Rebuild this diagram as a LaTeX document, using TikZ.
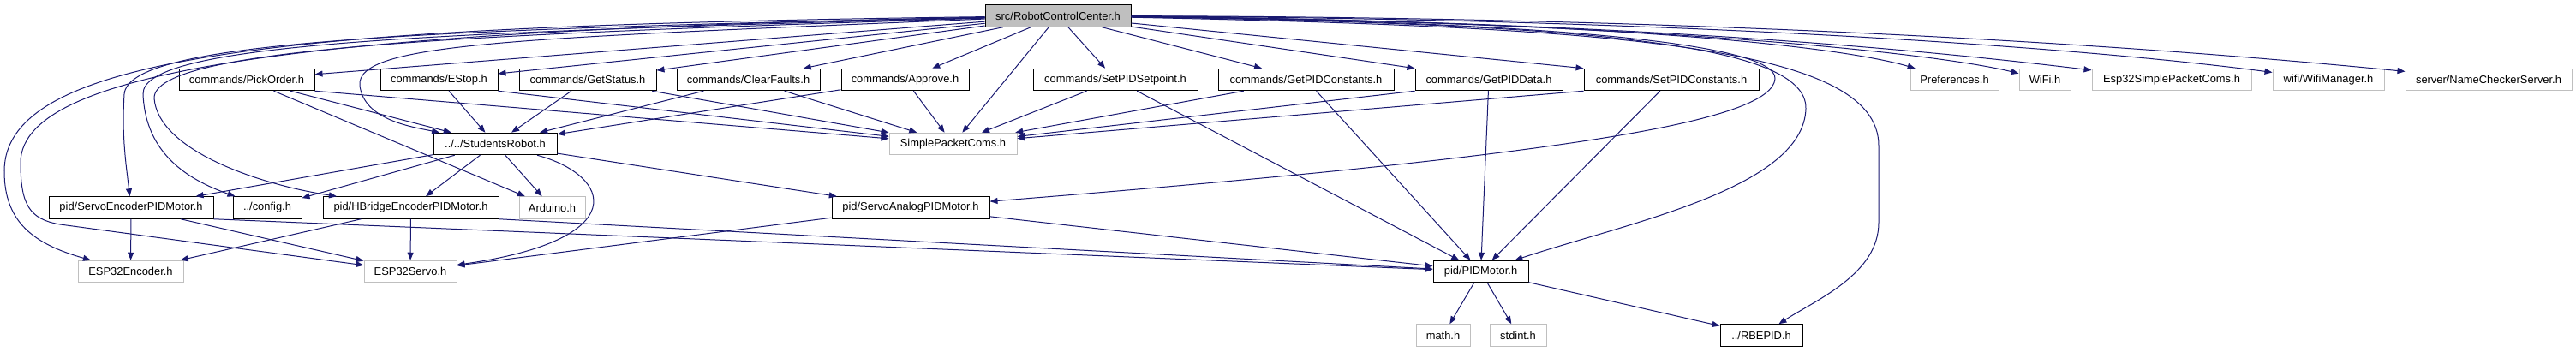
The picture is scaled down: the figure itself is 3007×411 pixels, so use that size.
\documentclass[tikz,border=0pt]{standalone}
\usepackage{fontspec}
\setmainfont{Liberation Sans}
\usetikzlibrary{arrows.meta}

\begin{document}
\begin{tikzpicture}[x=1pt, y=-1pt,
    font=\fontsize{12.9}{15}\selectfont,
    hdrfile/.style={draw=black, fill=white, text=black, line width=1pt, rectangle, inner sep=0pt, minimum height=25.5pt},
    extfile/.style={draw={rgb,255:red,191;green,191;blue,191}, fill=white, text=black, line width=1pt, rectangle, inner sep=0pt, minimum height=25.5pt},
    incl/.style={draw={rgb,255:red,25;green,25;blue,112}, line width=1pt, -{Triangle[length=9pt,width=7pt]}}]

    \useasboundingbox (0,0) rectangle (3007,411);

    \node[hdrfile, fill={rgb,255:red,191;green,191;blue,191}, minimum width=170pt] (ndRoot) at (1235,18.5) {src/RobotControlCenter.h};

    \node[hdrfile, minimum width=158pt] (ndPickOrder) at (288,93) {commands/PickOrder.h};
    \node[hdrfile, minimum width=137pt] (ndEStop) at (512.5,93) {commands/EStop.h};
    \node[hdrfile, minimum width=160pt] (ndGetStatus) at (686,93) {commands/GetStatus.h};
    \node[hdrfile, minimum width=167pt] (ndClearFaults) at (873.5,93) {commands/ClearFaults.h};
    \node[hdrfile, minimum width=149pt] (ndApprove) at (1056.5,93) {commands/Approve.h};
    \node[hdrfile, minimum width=192pt] (ndSetPIDSetpoint) at (1302,93) {commands/SetPIDSetpoint.h};
    \node[hdrfile, minimum width=205pt] (ndGetPIDConstants) at (1524.5,93) {commands/GetPIDConstants.h};
    \node[hdrfile, minimum width=172pt] (ndGetPIDData) at (1738,93) {commands/GetPIDData.h};
    \node[hdrfile, minimum width=204pt] (ndSetPIDConstants) at (1951,93) {commands/SetPIDConstants.h};
    \node[extfile, minimum width=103pt] (ndPreferences) at (2281.5,93) {Preferences.h};
    \node[extfile, minimum width=60pt] (ndWiFi) at (2387,93) {WiFi.h};
    \node[extfile, minimum width=186pt] (ndEspPacketComs) at (2535,93) {Esp32SimplePacketComs.h};
    \node[extfile, minimum width=130pt] (ndWifiManager) at (2718,93) {wifi/WifiManager.h};
    \node[extfile, minimum width=194pt] (ndNameChecker) at (2905,93) {server/NameCheckerServer.h};

    \node[hdrfile, minimum width=144pt] (ndStudentsRobot) at (578,168) {../../StudentsRobot.h};
    \node[extfile, minimum width=149pt] (ndPacketComs) at (1112.5,168) {SimplePacketComs.h};

    \node[hdrfile, minimum width=192pt] (ndServoEncoder) at (153,242.5) {pid/ServoEncoderPIDMotor.h};
    \node[hdrfile, minimum width=80pt] (ndConfig) at (312,242.5) {../config.h};
    \node[hdrfile, minimum width=205pt] (ndHBridge) at (479.5,242.5) {pid/HBridgeEncoderPIDMotor.h};
    \node[extfile, minimum width=77pt] (ndArduino) at (644.5,242.5) {Arduino.h};
    \node[hdrfile, minimum width=184pt] (ndServoAnalog) at (1063,242.5) {pid/ServoAnalogPIDMotor.h};

    \node[extfile, minimum width=123pt] (ndEncoder) at (152.5,317) {ESP32Encoder.h};
    \node[extfile, minimum width=108pt] (ndServo) at (479,317) {ESP32Servo.h};
    \node[hdrfile, minimum width=111pt] (ndPIDMotor) at (1728.5,317) {pid/PIDMotor.h};

    \node[extfile, minimum width=63pt] (ndMath) at (1684.5,391.5) {math.h};
    \node[extfile, minimum width=66pt] (ndStdint) at (1772,391.5) {stdint.h};
    \node[hdrfile, minimum width=96pt] (ndRBEPID) at (2056,391.5) {../RBEPID.h};

    \draw[incl] (ndRoot) -- (ndPickOrder);
    \draw[incl] (ndRoot) -- (ndEStop);
    \draw[incl] (ndRoot) -- (ndGetStatus);
    \draw[incl] (ndRoot) -- (ndClearFaults);
    \draw[incl] (ndRoot) -- (ndApprove);
    \draw[incl] (ndRoot) -- (ndPacketComs);
    \draw[incl] (ndRoot) -- (ndSetPIDSetpoint);
    \draw[incl] (ndRoot) -- (ndGetPIDConstants);
    \draw[incl] (ndRoot) -- (ndGetPIDData.north west);
    \draw[incl] (ndRoot) -- (ndSetPIDConstants.north west);
    \draw[incl] (ndRoot) .. controls (1900,25) and (2150,55) .. (ndPreferences);
    \draw[incl] (ndRoot) .. controls (1900,25) and (2250,60) .. (ndWiFi);
    \draw[incl] (ndRoot) .. controls (1950,25) and (2300,65) .. (ndEspPacketComs);
    \draw[incl] (ndRoot) .. controls (2000,22) and (2450,58) .. (ndWifiManager);
    \draw[incl] (ndRoot) .. controls (2050,20) and (2550,58) .. (ndNameChecker);
    \draw[incl] (ndRoot) .. controls (350,30) and (5,60) .. (5,200) .. controls (5,260) and (40,285) .. (ndEncoder);
    \draw[incl] (ndRoot) .. controls (400,35) and (24,75) .. (24,190) .. controls (24,240) and (35,256) .. (70,262) -- (ndServo);
    \draw[incl] (ndRoot) .. controls (450,35) and (150,50) .. (145,110) .. controls (142,160) and (147,190) .. (ndServoEncoder);
    \draw[incl] (ndRoot) .. controls (500,38) and (165,50) .. (167,110) .. controls (170,180) and (220,210) .. (ndConfig);
    \draw[incl] (ndRoot) .. controls (550,40) and (178,55) .. (180,115) .. controls (185,175) and (300,215) .. (ndHBridge);
    \draw[incl] (ndRoot) .. controls (600,45) and (415,50) .. (420,100) .. controls (425,140) and (480,148) .. (ndStudentsRobot);
    \draw[incl] (ndRoot) .. controls (1800,25) and (2075,50) .. (2072,92) .. controls (2068,140) and (1850,180) .. (ndServoAnalog);
    \draw[incl] (ndRoot) .. controls (1850,28) and (2110,50) .. (2108,127) .. controls (2105,220) and (1900,260) .. (ndPIDMotor);
    \draw[incl] (ndRoot) .. controls (1900,32) and (2193,55) .. (2193,170) -- (2193,260) .. controls (2193,320) and (2120,350) .. (ndRBEPID);

    \draw[incl] (ndPickOrder) -- (ndStudentsRobot);
    \draw[incl] (ndPickOrder.south east) -- (ndPacketComs);
    \draw[incl] (ndPickOrder) -- (ndArduino);
    \draw[incl] (ndEStop) -- (ndStudentsRobot);
    \draw[incl] (ndEStop.south east) -- (ndPacketComs);
    \draw[incl] (ndGetStatus) -- (ndStudentsRobot);
    \draw[incl] (ndGetStatus) -- (ndPacketComs);
    \draw[incl] (ndClearFaults) -- (ndStudentsRobot);
    \draw[incl] (ndClearFaults) -- (ndPacketComs);
    \draw[incl] (ndApprove) -- (ndStudentsRobot);
    \draw[incl] (ndApprove) -- (ndPacketComs);
    \draw[incl] (ndSetPIDSetpoint) -- (ndPacketComs);
    \draw[incl] (ndSetPIDSetpoint) -- (ndPIDMotor);
    \draw[incl] (ndGetPIDConstants) -- (ndPacketComs);
    \draw[incl] (ndGetPIDConstants) -- (ndPIDMotor);
    \draw[incl] (ndGetPIDData.south west) -- (ndPacketComs);
    \draw[incl] (ndGetPIDData) -- (ndPIDMotor);
    \draw[incl] (ndSetPIDConstants.south west) -- (ndPacketComs);
    \draw[incl] (ndSetPIDConstants) -- (ndPIDMotor);

    \draw[incl] (ndStudentsRobot) -- (ndServoEncoder);
    \draw[incl] (ndStudentsRobot) -- (ndConfig);
    \draw[incl] (ndStudentsRobot) -- (ndHBridge);
    \draw[incl] (ndStudentsRobot) -- (ndArduino);
    \draw[incl] (ndStudentsRobot) .. controls (715,205) and (740,280) .. (ndServo);
    \draw[incl] (ndStudentsRobot) -- (ndServoAnalog);

    \draw[incl] (ndServoEncoder) -- (ndEncoder);
    \draw[incl] (ndServoEncoder) -- (ndServo);
    \draw[incl] (ndServoEncoder.south east) -- (ndPIDMotor);
    \draw[incl] (ndHBridge) -- (ndEncoder);
    \draw[incl] (ndHBridge) -- (ndServo);
    \draw[incl] (ndHBridge.south east) -- (ndPIDMotor);
    \draw[incl] (ndServoAnalog) -- (ndServo);
    \draw[incl] (ndServoAnalog) -- (ndPIDMotor);
    \draw[incl] (ndPIDMotor) -- (ndMath);
    \draw[incl] (ndPIDMotor) -- (ndStdint);
    \draw[incl] (ndPIDMotor) -- (ndRBEPID);
\end{tikzpicture}
\end{document}
